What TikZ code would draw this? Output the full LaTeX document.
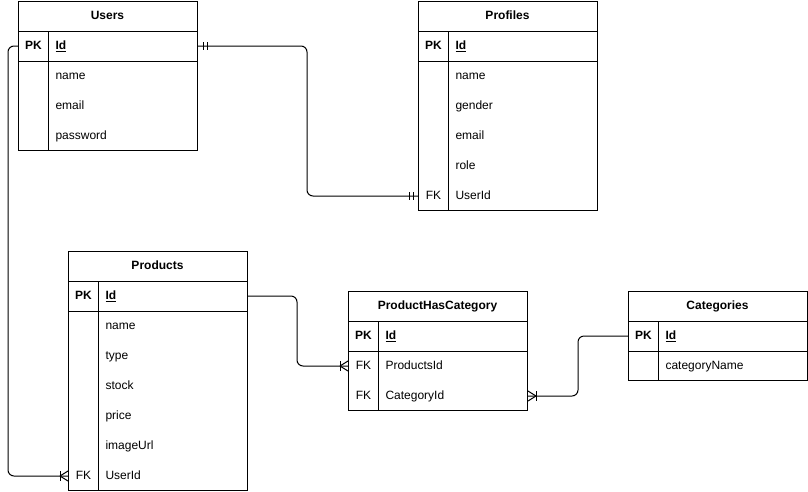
\documentclass[tikz,border=0pt]{standalone}
\usepackage{fontspec}
\setmainfont{Liberation Sans}
\usetikzlibrary{calc}
\begin{document}
\begin{tikzpicture}[x=1pt,y=-1pt,line width=1pt,
  box/.style={draw,anchor=north west,minimum width=179pt,inner sep=0pt},
  ttl/.style={anchor=center,font=\fontsize{12}{14}\selectfont\bfseries,inner sep=0pt,text height=9pt,text depth=2.5pt},
  kcell/.style={anchor=west,minimum width=30pt,minimum height=30pt,inner sep=0pt,font=\fontsize{12}{14}\selectfont,text height=9pt,text depth=2.5pt},
  fcell/.style={anchor=west,text width=135pt,inner xsep=7pt,inner ysep=0pt,minimum height=30pt,align=left,font=\fontsize{12}{14}\selectfont,text height=9pt,text depth=2.5pt},
  pk/.style={font=\fontsize{12}{14}\selectfont\bfseries},
  conn/.style={rounded corners=6pt},
  erbar/.style={line width=1pt}]
\useasboundingbox (0,0) rectangle (808,491);
% ---------- Users
\node[box,minimum height=149pt] (users) at (18,1) {};
\node[ttl] (users-t) at (107.5,16) {Users};
\draw (18,31) -- (197,31);
\draw (18,61) -- (197,61);
\draw (48,31) -- (48,150);
\node[kcell,pk] (u-k1) at (18,46) {PK};
\node[fcell,pk] (u-f1) at (48,46) {\underline{Id}};
\node[fcell] (u-f2) at (48,76) {name};
\node[fcell] (u-f3) at (48,106) {email};
\node[fcell] (u-f4) at (48,136) {password};
% ---------- Profiles
\node[box,minimum height=209pt] (profiles) at (418,1) {};
\node[ttl] (profiles-t) at (507.5,16) {Profiles};
\draw (418,31) -- (597,31);
\draw (418,61) -- (597,61);
\draw (448,31) -- (448,210);
\node[kcell,pk] (p-k1) at (418,46) {PK};
\node[fcell,pk] (p-f1) at (448,46) {\underline{Id}};
\node[fcell] (p-f2) at (448,76) {name};
\node[fcell] (p-f3) at (448,106) {gender};
\node[fcell] (p-f4) at (448,136) {email};
\node[fcell] (p-f5) at (448,166) {role};
\node[kcell] (p-k6) at (418,196) {FK};
\node[fcell] (p-f6) at (448,196) {UserId};
% ---------- Products
\node[box,minimum height=239pt] (products) at (68,251) {};
\node[ttl] (products-t) at (157.5,266) {Products};
\draw (68,281) -- (247,281);
\draw (68,311) -- (247,311);
\draw (98,281) -- (98,490);
\node[kcell,pk] (pr-k1) at (68,296) {PK};
\node[fcell,pk] (pr-f1) at (98,296) {\underline{Id}};
\node[fcell] (pr-f2) at (98,326) {name};
\node[fcell] (pr-f3) at (98,356) {type};
\node[fcell] (pr-f4) at (98,386) {stock};
\node[fcell] (pr-f5) at (98,416) {price};
\node[fcell] (pr-f6) at (98,446) {imageUrl};
\node[kcell] (pr-k7) at (68,476) {FK};
\node[fcell] (pr-f7) at (98,476) {UserId};
% ---------- ProductHasCategory
\node[box,minimum height=119pt] (phc) at (348,291) {};
\node[ttl] (phc-t) at (437.5,306) {ProductHasCategory};
\draw (348,321) -- (527,321);
\draw (348,351) -- (527,351);
\draw (378,321) -- (378,410);
\node[kcell,pk] (h-k1) at (348,336) {PK};
\node[fcell,pk] (h-f1) at (378,336) {\underline{Id}};
\node[kcell] (h-k2) at (348,366) {FK};
\node[fcell] (h-f2) at (378,366) {ProductsId};
\node[kcell] (h-k3) at (348,396) {FK};
\node[fcell] (h-f3) at (378,396) {CategoryId};
% ---------- Categories
\node[box,minimum height=89pt] (cat) at (628,291) {};
\node[ttl] (cat-t) at (717.5,306) {Categories};
\draw (628,321) -- (807,321);
\draw (628,351) -- (807,351);
\draw (658,321) -- (658,380);
\node[kcell,pk] (c-k1) at (628,336) {PK};
\node[fcell,pk] (c-f1) at (658,336) {\underline{Id}};
\node[fcell] (c-f2) at (658,366) {categoryName};
% ---------- connector bend columns
\coordinate (m1) at (307,0);
\coordinate (m2) at (8,0);
\coordinate (m3) at (297,0);
\coordinate (m4) at (578,0);
% Users -- Profiles (one to one)
\draw[conn] (u-f1.east) -- (u-f1.east -| m1) |- (p-k6.west);
\draw[erbar] ([xshift=5pt]u-f1.east) ++(0,-4) -- ++(0,8);
\draw[erbar] ([xshift=9pt]u-f1.east) ++(0,-4) -- ++(0,8);
\draw[erbar] ([xshift=-5pt]p-k6.west) ++(0,-4) -- ++(0,8);
\draw[erbar] ([xshift=-9pt]p-k6.west) ++(0,-4) -- ++(0,8);
% Users -- Products (one to many)
\draw[conn] (u-k1.west) -- (u-k1.west -| m2) |- (pr-k7.west);
\draw[erbar] ([xshift=-8pt]pr-k7.west) ++(0,-5) -- ++(0,10);
\draw[erbar] ([xshift=-8pt]pr-k7.west) -- ([yshift=5pt]pr-k7.west);
\draw[erbar] ([xshift=-8pt]pr-k7.west) -- ([yshift=-5pt]pr-k7.west);
% Products -- ProductHasCategory
\draw[conn] (pr-f1.east) -- (pr-f1.east -| m3) |- (h-k2.west);
\draw[erbar] ([xshift=-8pt]h-k2.west) ++(0,-5) -- ++(0,10);
\draw[erbar] ([xshift=-8pt]h-k2.west) -- ([yshift=5pt]h-k2.west);
\draw[erbar] ([xshift=-8pt]h-k2.west) -- ([yshift=-5pt]h-k2.west);
% Categories -- ProductHasCategory
\draw[conn] (c-k1.west) -- (c-k1.west -| m4) |- (h-f3.east);
\draw[erbar] ([xshift=8pt]h-f3.east) ++(0,-5) -- ++(0,10);
\draw[erbar] ([xshift=8pt]h-f3.east) -- ([yshift=5pt]h-f3.east);
\draw[erbar] ([xshift=8pt]h-f3.east) -- ([yshift=-5pt]h-f3.east);
\end{tikzpicture}
\end{document}
